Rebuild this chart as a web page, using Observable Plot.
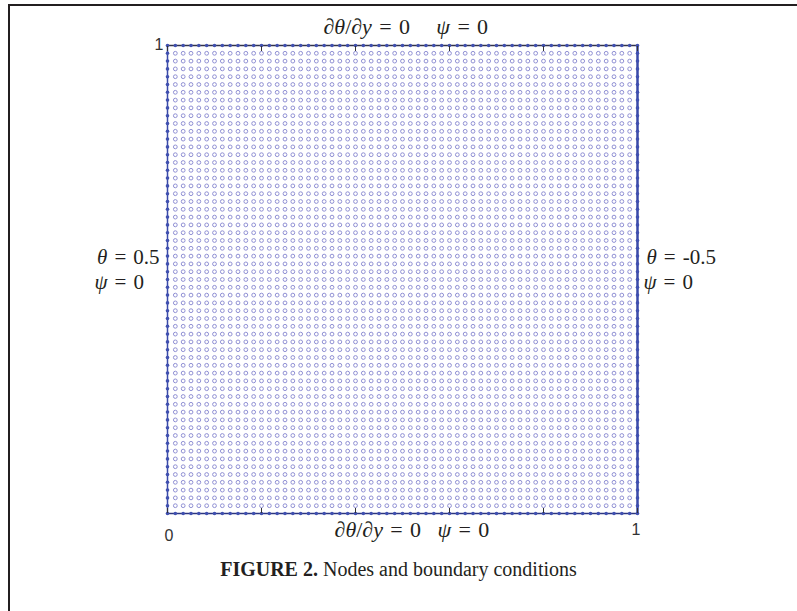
<!DOCTYPE html>
<html><head><meta charset="utf-8">
<script src="https://cdn.jsdelivr.net/npm/d3@7"></script>
<script src="https://cdn.jsdelivr.net/npm/@observablehq/plot@0.6"></script>
<style>
body{margin:0;background:#fff;}
#wrap{position:relative;width:797px;height:611px;overflow:hidden;background:#fff;}
#frame{position:absolute;left:8px;top:4px;width:820px;height:700px;border-left:2px solid #231f20;border-top:2px solid #231f20;}
#chart{position:absolute;left:0;top:0;}
#caption{position:absolute;left:0;width:797px;top:558px;text-align:center;font-family:"Liberation Serif","Times New Roman",serif;font-size:20px;color:#231f20;}
</style></head>
<body>
<div id="wrap"><div id="frame"></div><div id="chart"></div>
<div id="caption"><b>FIGURE 2.</b> Nodes and boundary conditions</div></div>
<script>
// Grid of nodes: 61 x 61 on the unit square (60 intervals)
const nodeCount = 61;
const nodeCoords = d3.range(nodeCount).map(i => i / (nodeCount - 1));
const tickValues = [0, 0.2, 0.4, 0.6, 0.8, 1];
const cornerLabels = [
  {x: 0, y: 0, t: "0", anchor: "start", dx: -3, dy: 22},
  {x: 1, y: 0, t: "1", anchor: "end", dx: 3, dy: 16},
  {x: 0, y: 1, t: "1", anchor: "end", dx: -4, dy: -1}
];
const S = "\u2004";
const topBottomLabels = [
  {x: 0.507, y: 1, t: `∂θ/∂y${S}=${S}0\u2003\u2009ψ${S}=${S}0`, anchor: "middle", dx: 0, dy: -19},
  {x: 0.52, y: 0, t: `∂θ/∂y${S}=${S}0\u2002\u2005ψ${S}=${S}0`, anchor: "middle", dx: 0, dy: 16}
];
const sideLabels = [
  {x: 0, y: 0.536, t: `θ${S}=${S}0.5`, anchor: "end", dx: -8, dy: -5},
  {x: 0, y: 0.496, t: `ψ${S}=${S}0`, anchor: "start", dx: -73, dy: 1},
  {x: 1, y: 0.536, t: `θ${S}=${S}-0.5`, anchor: "start", dx: 9, dy: -5},
  {x: 1, y: 0.496, t: `ψ${S}=${S}0`, anchor: "start", dx: 6, dy: 1}
];

const nodes = [];
for (const x of nodeCoords) for (const y of nodeCoords) nodes.push({x, y});
const isB = d => d.x === 0 || d.x === 1 || d.y === 0 || d.y === 1;
const interior = nodes.filter(d => !isB(d));
const boundary = nodes.filter(isB);

const serif = "Liberation Serif, Times New Roman, serif";
const plot = Plot.plot({
  width: 797, height: 545,
  marginLeft: 167, marginRight: 160, marginTop: 45, marginBottom: 32,
  x: {domain: [0, 1], axis: null}, y: {domain: [0, 1], axis: null},
  style: {background: "transparent", overflow: "visible"},
  marks: [
    Plot.dot(interior, {x: "x", y: "y", r: 1.9, stroke: "#9090d4", strokeWidth: 1, fill: "none"}),
    Plot.ruleX([0], {stroke: "#3a4aa8", strokeWidth: 1.5}),
    Plot.ruleX([1], {stroke: "#3a4aa8", strokeWidth: 2.5}),
    Plot.ruleY([0], {stroke: "#2b3580", strokeWidth: 1.5}),
    Plot.ruleY([1], {stroke: "#333348", strokeWidth: 1.5}),
    Plot.dot(boundary, {x: "x", y: "y", r: 1.8, fill: "#4050b0"}),
    Plot.axisX({anchor: "bottom", ticks: tickValues, tickSize: -5, tickFormat: () => "", label: null, stroke: "#333"}),
    Plot.axisX({anchor: "top", ticks: tickValues, tickSize: -5, tickFormat: () => "", label: null, stroke: "#333"}),
    ...cornerLabels.map(d => Plot.text([d], {x: "x", y: "y", text: "t", textAnchor: d.anchor, dx: d.dx, dy: d.dy,
      fontSize: 16, fontFamily: "Liberation Sans, Arial, sans-serif", fill: "#333"})),
    ...topBottomLabels.map(d => Plot.text([d], {x: "x", y: "y", text: "t", textAnchor: d.anchor, dx: d.dx, dy: d.dy,
      fontSize: 22, fontFamily: serif, fill: "#231f20", className: "bclabel"})),
    ...sideLabels.map(d => Plot.text([d], {x: "x", y: "y", text: "t", textAnchor: d.anchor, dx: d.dx, dy: d.dy,
      fontSize: 21, fontFamily: serif, fill: "#231f20", className: "bclabel"}))
  ]
});
document.getElementById("chart").append(plot);
// italicize variables
plot.querySelectorAll(".bclabel text").forEach(t => {
  const s = t.textContent;
  t.innerHTML = s.replace(/[θψy]/g, m => `<tspan font-style="italic">${m}</tspan>`);
});
</script>
</body></html>
